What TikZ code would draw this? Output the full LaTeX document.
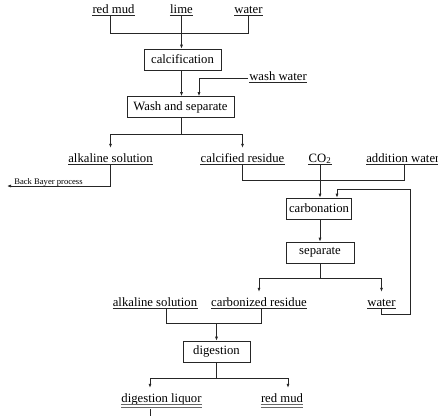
\documentclass[tikz,border=0pt]{standalone}
\usepackage{fontspec}
\setmainfont{Liberation Serif}
\usetikzlibrary{arrows.meta}
\begin{document}
\begin{tikzpicture}[x=1pt,y=-1pt, line width=0.7pt, draw=black!85,
  arr/.style={-{Latex[length=4pt,width=3pt]}},
  box/.style={draw, minimum height=21pt, inner sep=0pt, font=\fontsize{12.7}{14}\selectfont},
  lab/.style={anchor=south, inner sep=0pt, text height=14pt, text depth=1.5pt,
    font=\fontsize{12.7}{14}\selectfont,
    append after command={(\tikzlastnode.south west) edge[draw, line width=0.6pt] (\tikzlastnode.south east)}},
  dlab/.style={anchor=south, inner sep=0pt, text height=14pt, text depth=1.5pt,
    font=\fontsize{12.7}{14}\selectfont,
    append after command={(\tikzlastnode.south west) edge[draw=black!60, line width=0.9pt] (\tikzlastnode.south east)
      ([yshift=-3pt]\tikzlastnode.south west) edge[draw=black!60, line width=0.9pt] ([yshift=-3pt]\tikzlastnode.south east)}},
  small/.style={inner sep=0pt, font=\fontsize{8.6}{10}\selectfont},
]
\useasboundingbox (0,0) rectangle (438,415);

% top labels
\node[lab] (rm1) at (113.5,15.7) {red mud};
\node[lab] (lime) at (181.5,15.7) {lime};
\node[lab] (wt1) at (248.5,15.7) {water};

% boxes
\node[box, minimum width=77pt] (calc) at (182.5,59.5) {calcification};
\node[box, minimum width=107pt] (wash) at (180.5,107) {Wash and separate};
\node[box, minimum width=65pt] (carb) at (319,208.5) {carbonation};
\node[box, minimum width=68pt] (sep) at (320,252.5) {separate};
\node[box, minimum width=67pt] (dig) at (216.5,351.5) {digestion};

% middle labels
\node[lab] (ww) at (278,82) {wash water};
\node[lab] (alk1) at (110.5,164) {alkaline solution};
\node[lab] (calres) at (242.5,164) {calcified residue};
\node[lab] (co2) at (320,164) {CO\textsubscript{2}};
\node[lab, anchor=south west] (addw) at (366,164) {addition water};
\node[small, anchor=base west] (bb) at (14,184) {Back Bayer process};

\node[lab] (alk2) at (155,308) {alkaline solution};
\node[lab] (carbres) at (259,308) {carbonized residue};
\node[lab] (wt2) at (381.5,308) {water};

\node[dlab] (dl) at (161.5,404) {digestion liquor};
\node[dlab] (rm2) at (282,404) {red mud};

% junction coordinates
\coordinate (t1) at (110.7,33);
\coordinate (t2) at (248.3,33);
\coordinate (m) at (181.5,0);
\coordinate (w0) at (248,78);
\coordinate (w1) at (199,78);
\coordinate (s1) at (181.5,134);
\coordinate (b1) at (110.7,186);
\coordinate (b2) at (7,186);
\coordinate (c1) at (404,180);
\coordinate (cx) at (320,0);
\coordinate (f1) at (410,314);
\coordinate (f2) at (337,189);
\coordinate (s2) at (320,278);
\coordinate (d1) at (166,323);
\coordinate (d2) at (261,323);
\coordinate (d3) at (216.5,323);
\coordinate (s3) at (216.5,378);
\coordinate (o1) at (150,378);
\coordinate (o2) at (288,378);
\coordinate (o3) at (150,409);

% connectors: top
\draw (t1 |- rm1.south) -- (t1) -- (t2) -- (t2 |- wt1.south);
\draw[arr] (lime.south -| m) -- (m |- calc.north);
\draw[arr] (m |- calc.south) -- (m |- wash.north);
\draw[arr] (w0) -- (w1) -- (w1 |- wash.north);

% after wash
\draw (m |- wash.south) -- (s1);
\draw[arr] (s1) -| (alk1.north);
\draw[arr] (s1) -| (calres.north);
\draw[arr] (t1 |- alk1.south) -- (b1) -- (b2);

% carbonation inputs
\draw (calres.south) |- (c1) -- (c1 |- addw.south);
\draw[arr] (cx |- co2.south) -- (cx |- carb.north);
\draw[arr] (wt2.south) |- (f1) |- (f2) -- (f2 |- carb.north);
\draw[arr] (cx |- carb.south) -- (cx |- sep.north);

% separate outputs
\draw (sep.south) -- (s2);
\draw[arr] (s2) -| (carbres.north);
\draw[arr] (s2) -| (wt2.north);

% digestion inputs
\draw (d1 |- alk2.south) -- (d1) -- (d2) -- (d2 |- carbres.south);
\draw[arr] (d3) -- (dig.north);

% digestion outputs
\draw (dig.south) -- (s3);
\draw (o1) -- (o2);
\draw[arr] (o1) -- (o1 |- dl.north);
\draw[arr] (o2) -- (o2 |- rm2.north);
\draw (o3) -- ++(0,10);
\end{tikzpicture}
\end{document}
